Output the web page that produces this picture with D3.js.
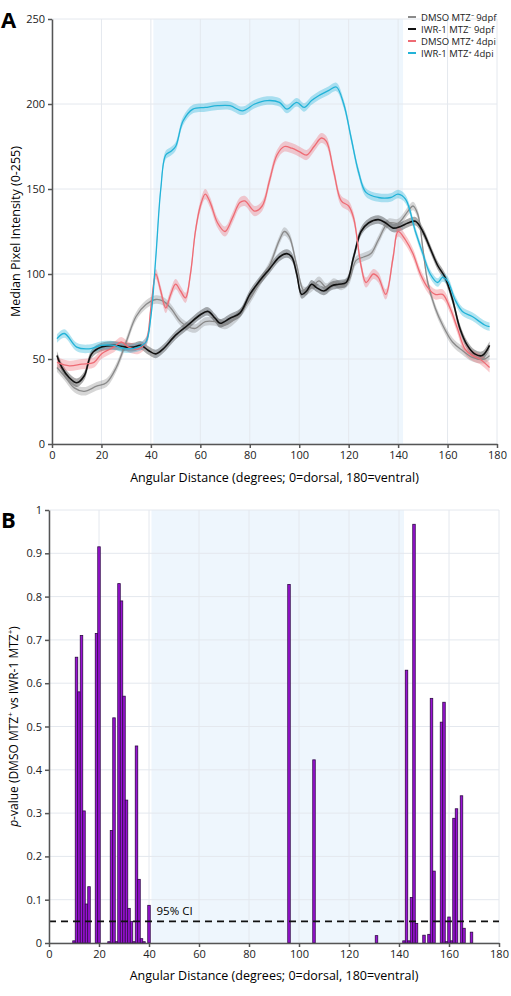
<!DOCTYPE html>
<html><head><meta charset="utf-8">
<script src="https://cdn.jsdelivr.net/npm/d3@7"></script>
<style>body{margin:0;background:#fff;font-family:"Open Sans",sans-serif}</style>
</head><body><svg id="c" width="511" height="996"></svg>
<script>
const seriesNames=["DMSO MTZ⁻ 9dpf","IWR-1 MTZ⁻ 9dpf","DMSO MTZ⁺ 4dpi","IWR-1 MTZ⁺ 4dpi"];
const seriesColors=["#8a8a8a","#111111","#ee6b74","#22b3d8"];
const dmsoMinus=[[2,45],[5,40],[9,33],[13,31],[18,34],[22,36],[26,45],[30,60],[34,75],[38,82],[42,85],[45,84],[48,80],[52,72],[55,69],[58,68],[62,72],[66,72],[70,70],[75,75],[80,85],[84,95],[88,105],[92,120],[94,125],[96,122],[99,105],[102,90],[105,92],[108,96],[111,92],[114,95],[117,93],[120,96],[123,108],[126,110],[129,112],[132,120],[136,130],[140,130],[144,137],[146,140],[148,135],[150,115],[152,95],[155,80],[158,70],[162,60],[166,55],[170,51],[175,50],[177,52]];
const iwrMinus=[[2,52],[4,45],[7,39],[10,36],[13,40],[16,53],[20,57],[25,58],[30,57],[33,57],[36,58],[39,55],[42,53],[45,56],[50,64],[55,70],[60,76],[63,78],[66,74],[68,71],[72,74],[76,77],[80,88],[84,96],[88,103],[92,110],[95,112],[97,110],[99,100],[101,88],[103,90],[105,94],[107,92],[110,90],[113,93],[116,94],[119,95],[122,110],[125,125],[128,130],[132,132],[135,130],[138,127],[141,128],[144,130],[147,131],[150,125],[153,115],[156,105],[159,98],[162,85],[165,68],[168,58],[171,53],[174,52],[177,58]];
const dmsoPlus=[[2,48],[7,46],[12,47],[17,48],[20,53],[25,57],[28,60],[31,57],[35,56],[38,60],[40,80],[42,100],[44,90],[46,80],[48,88],[50,94],[52,90],[54,86],[56,100],[58,125],[60,140],[62,147],[64,142],[67,130],[70,125],[73,133],[76,142],[78,143],[82,137],[85,140],[88,155],[91,170],[94,175],[97,174],[100,172],[103,170],[106,175],[109,180],[111,178],[114,160],[117,143],[120,140],[122,133],[125,105],[127,95],[130,100],[132,98],[135,88],[138,110],[140,125],[143,120],[146,112],[149,100],[152,92],[155,88],[158,88],[161,80],[164,68],[167,56],[170,52],[173,50],[177,45]];
const iwrPlus=[[2,62],[5,65],[10,57],[15,56],[20,58],[25,58],[30,56],[35,57],[38,60],[40,75],[42,110],[44,150],[46,170],[48,172],[50,175],[53,190],[57,197],[62,198],[67,199],[72,199],[77,196],[82,200],[87,202],[92,201],[95,197],[99,201],[102,198],[105,202],[108,205],[112,208],[115,210],[118,200],[121,180],[124,160],[127,148],[132,145],[137,145],[140,147],[143,144],[147,125],[150,112],[153,100],[156,95],[158,98],[160,96],[163,85],[166,78],[170,75],[175,70],[177,69]];
const bandHalf=[2.5,2.5,3,2.5];
const pDeg=[10,11,12,13,14,15,16,19,20,24,25,26,27,28,29,30,31,32,33,34,35,36,37,38,40,96,106,131,142,143,144,145,146,147,150,152,153,154,157,158,159,160,161,162,163,165,166,169];
const pVal=[0.005,0.66,0.58,0.71,0.305,0.09,0.13,0.715,0.915,0.003,0.26,0.52,0.003,0.83,0.79,0.57,0.33,0.08,0.05,0.003,0.455,0.147,0.01,0.003,0.087,0.828,0.423,0.017,0.005,0.63,0.005,0.105,0.967,0.045,0.018,0.02,0.565,0.166,0.51,0.556,0.003,0.06,0.005,0.288,0.31,0.34,0.034,0.025];
const xTicks=d3.range(0,181,20);

const svg=d3.select("#c");
const all=[dmsoMinus,iwrMinus,dmsoPlus,iwrPlus];

function panel(x,y,yt){
  const g=svg.append("g");
  g.append("rect").attr("x",x(41)).attr("y",y.range()[1]).attr("width",x(142)-x(41)).attr("height",y.range()[0]-y.range()[1]).attr("fill","#eef6fd");
  xTicks.forEach(t=>g.append("line").attr("x1",x(t)).attr("x2",x(t)).attr("y1",y.range()[0]).attr("y2",y.range()[1]).attr("stroke","#e4e8ee"));
  yt.forEach(t=>g.append("line").attr("x1",x(0)).attr("x2",x(180)).attr("y1",y(t)).attr("y2",y(t)).attr("stroke","#e4e8ee"));
  return g;
}
function axes(x,y,yt,fmt){
  const xa=svg.append("g").attr("transform",`translate(0,${y.range()[0]})`).call(d3.axisBottom(x).tickValues(xTicks).tickSize(4).tickSizeOuter(0));
  const ya=svg.append("g").attr("transform",`translate(${x(0)},0)`).call(d3.axisLeft(y).tickValues(yt).tickFormat(fmt).tickSize(4).tickSizeOuter(0));
  [xa,ya].forEach(a=>{a.selectAll("text").attr("font-size",11).attr("fill","#222").attr("font-family","Open Sans");a.selectAll("path,line").attr("stroke","#555").attr("stroke-width",1.5);});
}

const xA=d3.scaleLinear().domain([0,180]).range([52,497]);
const yA=d3.scaleLinear().domain([0,250]).range([444,19]);
const ytA=d3.range(0,251,50);
panel(xA,yA,ytA);
const curve=d3.curveCatmullRom.alpha(0.5);
const line=d3.line().x(d=>xA(d[0])).y(d=>yA(d[1])).curve(curve);
all.forEach((s,i)=>{
  const area=d3.area().x(d=>xA(d[0])).y0(d=>yA(d[1]-bandHalf[i])).y1(d=>yA(d[1]+bandHalf[i])).curve(curve);
  svg.append("path").attr("d",area(s)).attr("fill",seriesColors[i]).attr("opacity",0.35);
});
all.forEach((s,i)=>svg.append("path").attr("d",line(s)).attr("fill","none").attr("stroke",seriesColors[i]).attr("stroke-width",i==1?1.6:1.3));
axes(xA,yA,ytA,d3.format("d"));
const lg=svg.append("g").attr("transform","translate(408,17)");
seriesNames.forEach((n,i)=>{
  lg.append("line").attr("x1",0).attr("x2",8).attr("y1",i*12).attr("y2",i*12).attr("stroke",seriesColors[i]).attr("stroke-width",2);
  lg.append("text").attr("x",13).attr("y",i*12+3.5).attr("font-size",9.5).attr("font-family","Open Sans").attr("fill","#222").text(n);
});
svg.append("text").attr("x",xA(90)).attr("y",482).attr("text-anchor","middle").attr("font-size",12.5).text("Angular Distance (degrees; 0=dorsal, 180=ventral)");
svg.append("text").attr("transform",`translate(20,${yA(125)}) rotate(-90)`).attr("text-anchor","middle").attr("font-size",12.5).text("Median Pixel Intensity (0-255)");
svg.append("text").attr("x",1).attr("y",28).attr("font-size",22).attr("font-weight","bold").text("A");

const xB=d3.scaleLinear().domain([0,180]).range([49,499]);
const yB=d3.scaleLinear().domain([0,1]).range([943,510]);
const ytB=d3.range(0,11).map(d=>d/10);
panel(xB,yB,ytB);
const bw=xB(1)-xB(0);
svg.append("g").selectAll("rect").data(pDeg.map((d,i)=>[d,pVal[i]])).join("rect")
  .attr("x",d=>xB(d[0])-bw/2).attr("width",bw).attr("y",d=>yB(d[1])).attr("height",d=>yB(0)-yB(d[1]))
  .attr("fill","#9a12d6").attr("stroke","#2e0a45").attr("stroke-width",0.8);
svg.append("line").attr("x1",xB(0)).attr("x2",xB(180)).attr("y1",yB(0.05)).attr("y2",yB(0.05)).attr("stroke","#111").attr("stroke-width",1.8).attr("stroke-dasharray","7,5");
svg.append("text").attr("x",xB(43)).attr("y",yB(0.05)-6).attr("font-size",11.5).text("95% CI");
axes(xB,yB,ytB,d=>d===0?"0":d3.format(".1~f")(d));
svg.append("text").attr("x",xB(90)).attr("y",980).attr("text-anchor","middle").attr("font-size",12.5).text("Angular Distance (degrees; 0=dorsal, 180=ventral)");
const yl=svg.append("text").attr("transform",`translate(18,${yB(0.5)}) rotate(-90)`).attr("text-anchor","middle").attr("font-size",12);
yl.append("tspan").attr("font-style","italic").text("p");
yl.append("tspan").text("-value (DMSO MTZ");
yl.append("tspan").attr("font-size",8).attr("dy",-5).text("+");
yl.append("tspan").attr("dy",5).text(" vs IWR-1 MTZ");
yl.append("tspan").attr("font-size",8).attr("dy",-5).text("+");
yl.append("tspan").attr("dy",5).text(")");
svg.append("text").attr("x",1).attr("y",528).attr("font-size",22).attr("font-weight","bold").text("B");
</script></body></html>
